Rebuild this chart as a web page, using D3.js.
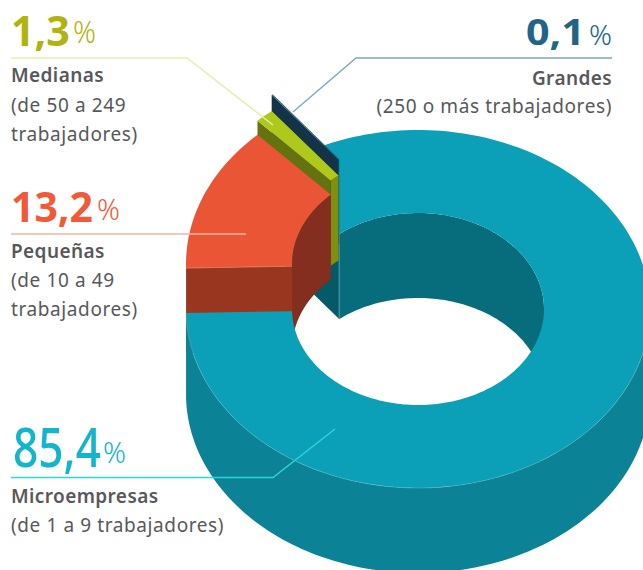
<!DOCTYPE html>
<html>
<head>
<meta charset="utf-8">
<script src="https://cdn.jsdelivr.net/npm/d3@7"></script>
<style>
    html, body { margin: 0; padding: 0; background: #fff; }
    svg { display: block; }
    text { font-family: "Noto Sans", sans-serif; }
</style>
</head>
<body>
<svg id="chart" width="643" height="570"></svg>
<script>
// Data, in the clockwise order the slices are drawn
const categories = ['Pequeñas', 'Medianas', 'Grandes', 'Microempresas'];
const shares = [13.2, 1.3, 0.1, 85.4];
const shareLabels = ['13,2', '1,3', '0,1', '85,4'];
const ranges = ['(de 10 a 49|trabajadores)', '(de 50 a 249|trabajadores)', '(250 o más trabajadores)', '(de 1 a 9 trabajadores)'];

const topColors = ['#ea5535', '#aec91b', '#1f5f80', '#0ba0b7'];
const startFaceColors = ['#993620', '#64730f', '#143347', '#055a68'];
const innerWallColors = ['#832e1f', '#7e8f12', '#143347', '#076d7c'];
const outerWallColor = '#0b8296';
const lifts = [45, 59, 75, 0];

const svg = d3.select('#chart');
const cx = 418, cy = 309;
const outer = { rx: 232, ry: 179 };
const inner = { rx: 126, ry: 96 };
const depth = 85;
const TAU = 2 * Math.PI;

const pie = d3.pie().sort(null).startAngle(268.7 * Math.PI / 180).endAngle((268.7 + 360) * Math.PI / 180);
const arcs = pie(shares);

const line = d3.line().x(d => d[0]).y(d => d[1]);

// angle is clockwise from 12 o'clock, same as d3.pie gives it
function pt(ring, a, lift, drop) {
    return [cx + ring.rx * Math.sin(a), cy - lift + drop - ring.ry * Math.cos(a)];
}

function sweep(ring, a0, a1, lift, drop) {
    const n = Math.max(2, Math.ceil(Math.abs(a1 - a0) * 40));
    return d3.range(n + 1).map(i => pt(ring, a0 + (a1 - a0) * i / n, lift, drop));
}

function topFace(a0, a1, lift) {
    return line(sweep(outer, a0, a1, lift, 0).concat(sweep(inner, a1, a0, lift, 0))) + 'Z';
}

function wall(ring, a0, a1, lift) {
    return line(sweep(ring, a0, a1, lift, 0).concat(sweep(ring, a1, a0, lift, depth))) + 'Z';
}

function cutFace(a, lift) {
    return line([pt(outer, a, lift, 0), pt(inner, a, lift, 0), pt(inner, a, lift, depth), pt(outer, a, lift, depth)]) + 'Z';
}

const g = svg.append('g');
const microBack = arcs[3].startAngle;
const microFront = arcs[3].endAngle;
const rightSide = TAU + Math.PI / 2;
const bottomSide = TAU + Math.PI;

// Teal ring: the back part sits under the raised slices
g.append('path').attr('d', cutFace(microBack, 0)).attr('fill', startFaceColors[3]);
g.append('path').attr('d', wall(inner, microBack, rightSide, 0)).attr('fill', innerWallColors[3]);
g.append('path').attr('d', topFace(microBack, bottomSide, 0)).attr('fill', topColors[3]);
g.append('path')
    .attr('d', line([pt(inner, microBack, 0, 0), pt(inner, microBack, 0, depth)]))
    .attr('stroke', '#4f97a5').attr('stroke-width', 1).attr('fill', 'none');

// Raised slices, furthest first
[2, 1, 0].forEach(i => {
    const d = arcs[i];
    const lift = lifts[i];
    g.append('path').attr('d', wall(inner, d.startAngle, d.endAngle, lift)).attr('fill', innerWallColors[i]);
    g.append('path').attr('d', cutFace(d.startAngle, lift)).attr('fill', startFaceColors[i]);
    g.append('path').attr('d', topFace(d.startAngle, d.endAngle, lift)).attr('fill', topColors[i]);
});

// Pale seam along the top edge of the red cut
g.append('path')
    .attr('d', line([pt(outer, arcs[0].startAngle, lifts[0], 0), pt(inner, arcs[0].startAngle, lifts[0], 0)]))
    .attr('stroke', '#d9775f').attr('stroke-width', 1).attr('fill', 'none');

// Front part of the teal ring goes over the red slice
g.append('path').attr('d', wall(outer, rightSide, microFront, 0)).attr('fill', outerWallColor);
g.append('path').attr('d', topFace(bottomSide - 0.01, microFront, 0)).attr('fill', topColors[3]);
g.append('path').attr('d', line(sweep(outer, rightSide, microFront, 0, 0)))
    .attr('fill', 'none').attr('stroke', '#5fb9c7').attr('stroke-width', 0.5);

// Leader lines
const leaders = [
    { color: '#e6efaa', pts: [[11, 58], [187, 58], [273, 125]] },
    { color: '#f6b5a5', pts: [[11, 234], [246, 234]] },
    { color: '#2bd5d8', pts: [[11, 477.5], [273, 477.5], [335, 429]] },
    { color: '#7ea8bd', pts: [[612, 58], [356, 58], [293, 112]] }
];
svg.append('g').selectAll('path').data(leaders).join('path')
    .attr('d', d => line(d.pts))
    .attr('fill', 'none')
    .attr('stroke', d => d.color)
    .attr('stroke-width', 1.4);

// squeeze a text horizontally so it ends up w pixels wide
function fitted(x, y, w, size, weight, color, str) {
    const t = svg.append('text').attr('fill', color)
        .attr('font-size', size).attr('font-weight', weight).text(str);
    const sx = w / t.node().getComputedTextLength();
    t.attr('transform', `translate(${x},${y}) scale(${sx},1)`);
    return t;
}

// Labels. numX/numW place the figure, pctX/pctY the % sign next to it
const labelLayout = [
    { numX: 11, numW: 82, y: 222, size: 42, weight: 700, pctX: 97, pctY: 220, pct: 30, color: '#f15a38', x: 11, name: 258, lines: [287, 316] },
    { numX: 11, numW: 59, y: 46, size: 42, weight: 700, pctX: 73, pctY: 43, pct: 31, color: '#b1b40f', x: 11, name: 82, lines: [112, 141] },
    { numX: 526, numW: 59, y: 45, size: 36, weight: 700, pctX: 589, pctY: 45, pct: 28, color: '#226485', x: 612, name: 85, lines: [113], right: true },
    { numX: 13, numW: 88, y: 467, size: 55, weight: 500, pctX: 103, pctY: 463, pct: 29, color: '#12b5cc', x: 11, name: 503, lines: [532] }
];
labelLayout.forEach((l, i) => {
    const anchor = l.right ? 'end' : 'start';
    fitted(l.numX, l.y, l.numW, l.size, l.weight, l.color, shareLabels[i]);
    fitted(l.pctX, l.pctY, 23, l.pct, 300, l.color, '%');
    svg.append('text').attr('x', l.x).attr('y', l.name).attr('text-anchor', anchor)
        .attr('fill', '#58585a').attr('font-size', 19).attr('font-weight', 600)
        .attr('letter-spacing', 0.4).text(categories[i]);
    ranges[i].split('|').forEach((t, j) => {
        svg.append('text').attr('x', l.x).attr('y', l.lines[j]).attr('text-anchor', anchor)
            .attr('fill', '#58585a').attr('font-size', 19)
            .attr('letter-spacing', 0.6).text(t);
    });
});
</script>
</body>
</html>
